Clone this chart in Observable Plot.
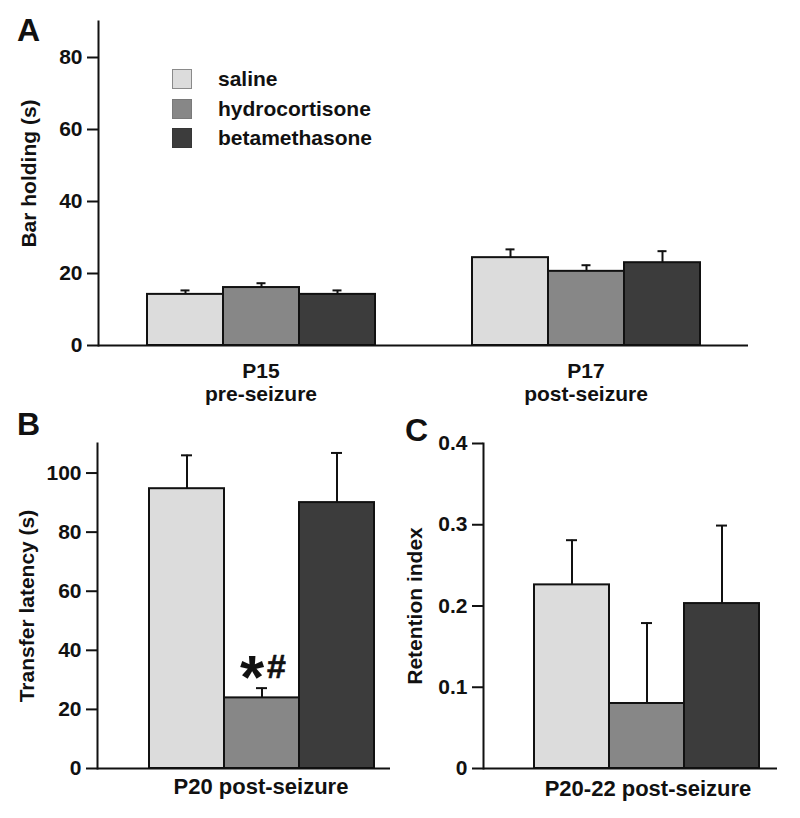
<!DOCTYPE html>
<html>
<head>
<meta charset="utf-8">
<script src="https://cdn.jsdelivr.net/npm/d3@7"></script>
<script src="https://cdn.jsdelivr.net/npm/@observablehq/plot@0.6"></script>
<style>
  body { margin: 0; background: #fff; }
  #root { position: relative; width: 800px; height: 818px; overflow: hidden;
          font-family: "Liberation Sans", Arial, Helvetica, sans-serif; font-weight: bold; color: #111; }
  #root svg { position: absolute; overflow: visible; }
  #root svg [aria-label^="y-axis"], #root svg [aria-label="frame"], #root svg [aria-label="frame"] * { stroke-width: 2px; }
  .letter { position: absolute; font-size: 32px; line-height: 32px; font-weight: bold; }
  .legend { position: absolute; left: 172px; top: 69px; }
  .legend .row { display: flex; align-items: center; height: 20px; margin-bottom: 9.5px; }
  .legend .sw { width: 18px; height: 18px; border: 1px solid #777; box-sizing: content-box; }
  .legend .lab { margin-left: 26px; font-size: 21px; line-height: 20px; }
</style>
</head>
<body>
<div id="root"></div>
<script>
// ---------- data ----------
const treatments = ["saline", "hydrocortisone", "betamethasone"];
const treatmentColors = ["#dcdcdc", "#878787", "#3c3c3c"];

// Panel A: bar holding (s)
const groupsA = ["P15", "P17"];
const phasesA = ["pre-seizure", "post-seizure"];
const meanP15 = [14.2, 16.1, 14.2];
const errP15 = [1.1, 1.2, 1.1];
const meanP17 = [24.4, 20.6, 23.0];
const errP17 = [2.3, 1.7, 3.2];
const yTicksA = [0, 20, 40, 60, 80];
const yLabelA = "Bar holding (s)";

// Panel B: transfer latency (s)
const meanB = [94.7, 23.9, 90.0];
const errB = [11.3, 3.3, 16.8];
const sigB = ["", "*#", ""];
const yTicksB = [0, 20, 40, 60, 80, 100];
const yLabelB = "Transfer latency (s)";
const xLabelB = "P20 post-seizure";

// Panel C: retention index
const meanC = [0.226, 0.080, 0.203];
const errC = [0.055, 0.099, 0.096];
const yTicksC = [0, 0.1, 0.2, 0.3, 0.4];
const yLabelC = "Retention index";
const xLabelC = "P20-22 post-seizure";

// ---------- tables ----------
const meansA = [meanP15, meanP17];
const errsA = [errP15, errP17];
const dataA = groupsA.flatMap((g, gi) => treatments.map((t, ti) => ({group: g, treatment: t, mean: meansA[gi][ti], err: errsA[gi][ti]})));
const dataB = treatments.map((t, i) => ({treatment: t, mean: meanB[i], err: errB[i], sig: sigB[i]}));
const dataC = treatments.map((t, i) => ({treatment: t, mean: meanC[i], err: errC[i]}));

const INK = "#111";
const FONT = "font-family: 'Liberation Sans', Arial, Helvetica, sans-serif; font-size: 21px; font-weight: bold; color: #111; background: transparent; overflow: visible;";

function barMarks(data, capInset, extra = {}) {
  return [
    Plot.barY(data, {...extra, x: "treatment", y: "mean", fill: "treatment", stroke: INK, strokeWidth: 2}),
    Plot.ruleX(data, {...extra, x: "treatment", y1: "mean", y2: d => d.mean + d.err, stroke: INK, strokeWidth: 2}),
    Plot.tickY(data, {...extra, x: "treatment", y: d => d.mean + d.err, stroke: INK, strokeWidth: 2, insetLeft: capInset, insetRight: capInset}),
    Plot.ruleY([0], {stroke: INK, strokeWidth: 2})
  ];
}
function yAxis(domain, ticks, fmt) {
  const o = {domain, ticks, tickSize: 11, tickPadding: 5, line: true, label: null};
  if (fmt) o.tickFormat = fmt;
  return o;
}

const root = document.getElementById("root");

// ---------- Panel A ----------
const plotA = Plot.plot({
  width: 800, height: 400,
  marginLeft: 98, marginRight: 52, marginTop: 21, marginBottom: 55,
  style: FONT,
  fx: {domain: groupsA, paddingInner: 0, paddingOuter: 0, axis: null, label: null},
  x: {domain: treatments, paddingInner: 0, paddingOuter: 0.638, axis: null},
  y: yAxis([0, 90], yTicksA),
  color: {domain: treatments, range: treatmentColors},
  marks: [
    ...barMarks(dataA, 33.5, {fx: "group"}),
    Plot.text(groupsA, {fx: d => d, text: d => d + "\n" + phasesA[groupsA.indexOf(d)], frameAnchor: "bottom", lineAnchor: "top", dy: 16, lineHeight: 1.1, fontSize: 21, fill: INK}),
    Plot.text([yLabelA], {fx: () => groupsA[0], frameAnchor: "left", textAnchor: "middle", lineAnchor: "middle", rotate: -90, dx: -69, dy: -10, fontSize: 21, fill: INK})
  ]
});
plotA.style.left = "0px"; plotA.style.top = "0px";
root.appendChild(plotA);

// ---------- Panel B ----------
const plotB = Plot.plot({
  width: 400, height: 418,
  marginLeft: 97, marginRight: 10, marginTop: 43, marginBottom: 50,
  style: FONT,
  x: {domain: treatments, paddingInner: 0, paddingOuter: 0.428, align: 0.77, axis: null},
  y: yAxis([0, 110], yTicksB),
  color: {domain: treatments, range: treatmentColors},
  marks: [
    ...barMarks(dataB, 32),
    Plot.text(dataB.filter(d => d.sig.includes("*")), {x: "treatment", y: d => d.mean + d.err, text: () => "*", fontSize: 62, fontWeight: "bold", dx: -10, dy: -10, fill: INK}),
    Plot.text(dataB.filter(d => d.sig.includes("#")), {x: "treatment", y: d => d.mean + d.err, text: () => "#", fontSize: 34, fontWeight: "bold", fontStyle: "italic", dx: 14, dy: -21, fill: INK, stroke: INK, strokeWidth: 0.6}),
    Plot.text([xLabelB], {frameAnchor: "bottom", lineAnchor: "top", dx: 17, dy: 10, fontSize: 22, fill: INK}),
    Plot.text([yLabelB], {frameAnchor: "left", textAnchor: "middle", lineAnchor: "middle", rotate: -90, dx: -70, fontSize: 21, fill: INK})
  ]
});
plotB.style.left = "0px"; plotB.style.top = "400px";
root.appendChild(plotB);

// ---------- Panel C ----------
const plotC = Plot.plot({
  width: 400, height: 418,
  marginLeft: 83, marginRight: 23, marginTop: 43, marginBottom: 50,
  style: FONT,
  x: {domain: treatments, paddingInner: 0, paddingOuter: 0.44, align: 0.745, axis: null},
  y: yAxis([0, 0.4], yTicksC, d => String(d)),
  color: {domain: treatments, range: treatmentColors},
  marks: [
    ...barMarks(dataC, 32),
    Plot.text([xLabelC], {frameAnchor: "bottom", lineAnchor: "top", dx: 17.5, dy: 12, fontSize: 22, fill: INK}),
    Plot.text([yLabelC], {frameAnchor: "left", textAnchor: "middle", lineAnchor: "middle", rotate: -90, dx: -68, fontSize: 21, fill: INK})
  ]
});
plotC.style.left = "400px"; plotC.style.top = "400px";
root.appendChild(plotC);

// ---------- panel letters ----------
[["A", 17, 14], ["B", 17, 408], ["C", 405, 414]].forEach(([t, x, y]) => {
  const d = document.createElement("div");
  d.className = "letter"; d.textContent = t;
  d.style.left = x + "px"; d.style.top = y + "px";
  root.appendChild(d);
});

// ---------- legend ----------
const legend = d3.select(root).append("div").attr("class", "legend");
const rows = legend.selectAll("div.row").data(treatments).join("div").attr("class", "row");
rows.append("div").attr("class", "sw")
  .style("background", (d, i) => treatmentColors[i])
  .style("border-color", (d, i) => i === 0 ? "#8a8a8a" : d3.color(treatmentColors[i]).darker(0.3).formatHex());
rows.append("div").attr("class", "lab").text(d => d);
</script>
</body>
</html>
